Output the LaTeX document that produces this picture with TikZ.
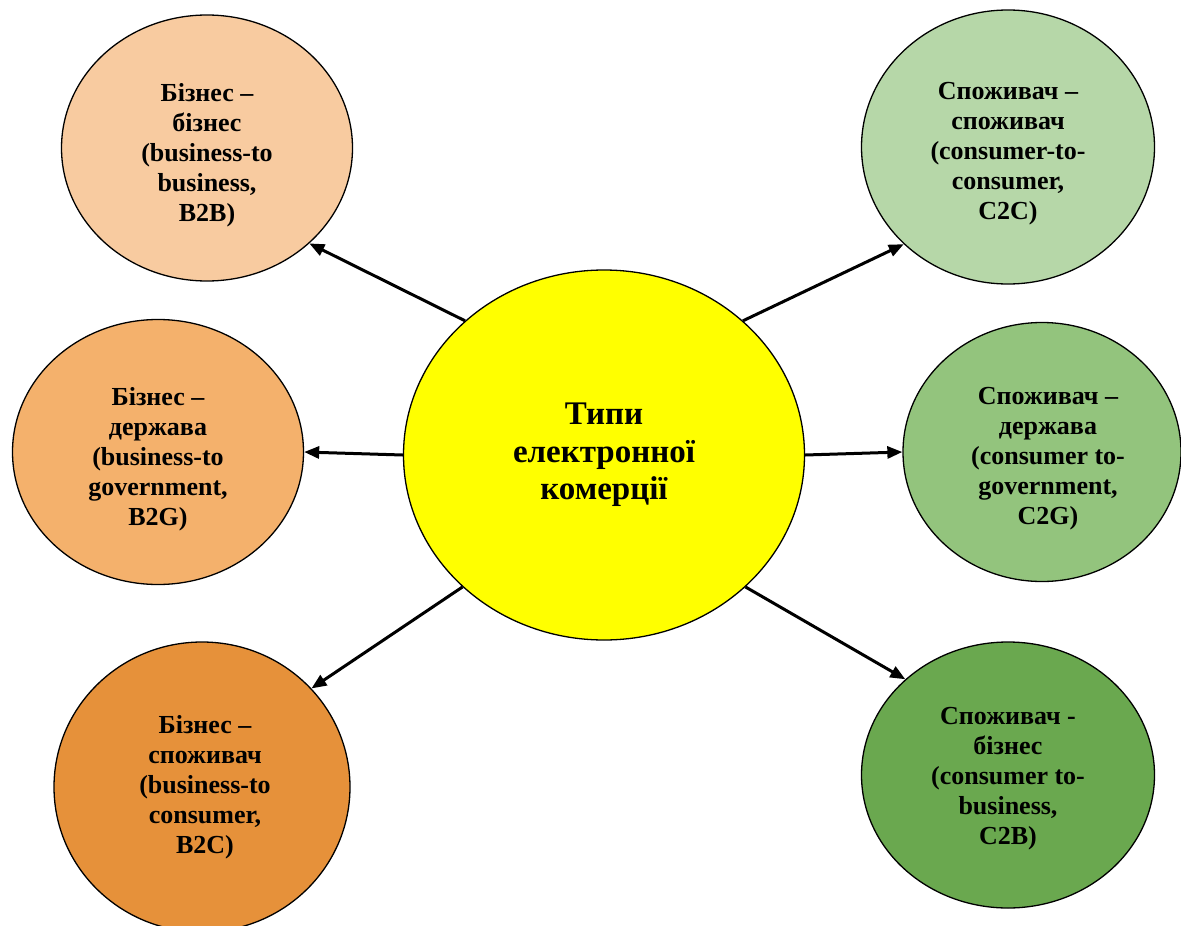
\documentclass[tikz,border=0pt]{standalone}
\usepackage{fontspec}
\setmainfont{Liberation Serif}
\usetikzlibrary{shapes.geometric,arrows.meta}
\definecolor{corefill}{HTML}{FFFF00}
\definecolor{bbfill}{HTML}{F8CBA0}
\definecolor{bgfill}{HTML}{F4B16C}
\definecolor{bcfill}{HTML}{E6913A}
\definecolor{ccfill}{HTML}{B6D7A8}
\definecolor{cgfill}{HTML}{93C47D}
\definecolor{cbfill}{HTML}{6AA84F}
\begin{document}
\begin{tikzpicture}[x=1pt,y=-1pt,
  kind/.style={ellipse, draw=black, line width=1.3pt, inner sep=0pt},
  caption/.style={align=center, inner sep=0pt,
    font=\fontsize{26}{30}\selectfont\bfseries},
  link/.style={line width=3pt, -{Triangle[length=15pt,width=12pt]}}]
\useasboundingbox (0,0) rectangle (1181,926);

% central node
\node[kind, fill=corefill, minimum width=401pt, minimum height=370pt,
  align=center, font=\fontsize{33}{37.5}\selectfont\bfseries] (core) at (604,455)
  {Типи\\електронної\\комерції};

% business side
\node[kind, fill=bbfill, minimum width=291pt, minimum height=266pt] (b2b) at (207,148) {};
\node[kind, fill=bgfill, minimum width=291pt, minimum height=265pt] (b2g) at (158,452) {};
\node[kind, fill=bcfill, minimum width=296pt, minimum height=290pt] (b2c) at (202,787) {};

% consumer side
\node[kind, fill=ccfill, minimum width=293pt, minimum height=274pt] (c2c) at (1008,147) {};
\node[kind, fill=cgfill, minimum width=278pt, minimum height=259pt] (c2g) at (1042,452) {};
\node[kind, fill=cbfill, minimum width=293pt, minimum height=266pt] (c2b) at (1008,775) {};

% texts inside the outer ellipses
\node[caption] (b2bt) at ([yshift=-7pt]b2b.center) {Бізнес –\\бізнес\\(business-to\\business,\\B2B)};
\node[caption] (b2gt) at ([yshift=-7pt]b2g.center) {Бізнес –\\держава\\(business-to\\government,\\B2G)};
\node[caption] (b2ct) at ([xshift=3pt]b2c.center) {Бізнес –\\споживач\\(business-to\\consumer,\\B2C)};
\node[caption] (c2ct) at ([yshift=-7pt]c2c.center) {Споживач –\\споживач\\(consumer-to-\\consumer,\\C2C)};
\node[caption] (c2gt) at ([xshift=6pt,yshift=-7pt]c2g.center) {Споживач –\\держава\\(consumer to-\\government,\\C2G)};
\node[caption] (c2bt) at ([yshift=-4pt]c2b.center) {Споживач -\\бізнес\\(consumer to-\\business,\\C2B)};

% connectors
\draw[link] (core.136) -- (b2b.317.6);
\draw[link] (core.west) -- (b2g.east);
\draw[link] (core.223) -- (b2c.42);
\draw[link] (core.44) -- (c2c.223.4);
\draw[link] (core.east) -- (c2g.west);
\draw[link] (core.317) -- (c2b.137.9);
\end{tikzpicture}
\end{document}
